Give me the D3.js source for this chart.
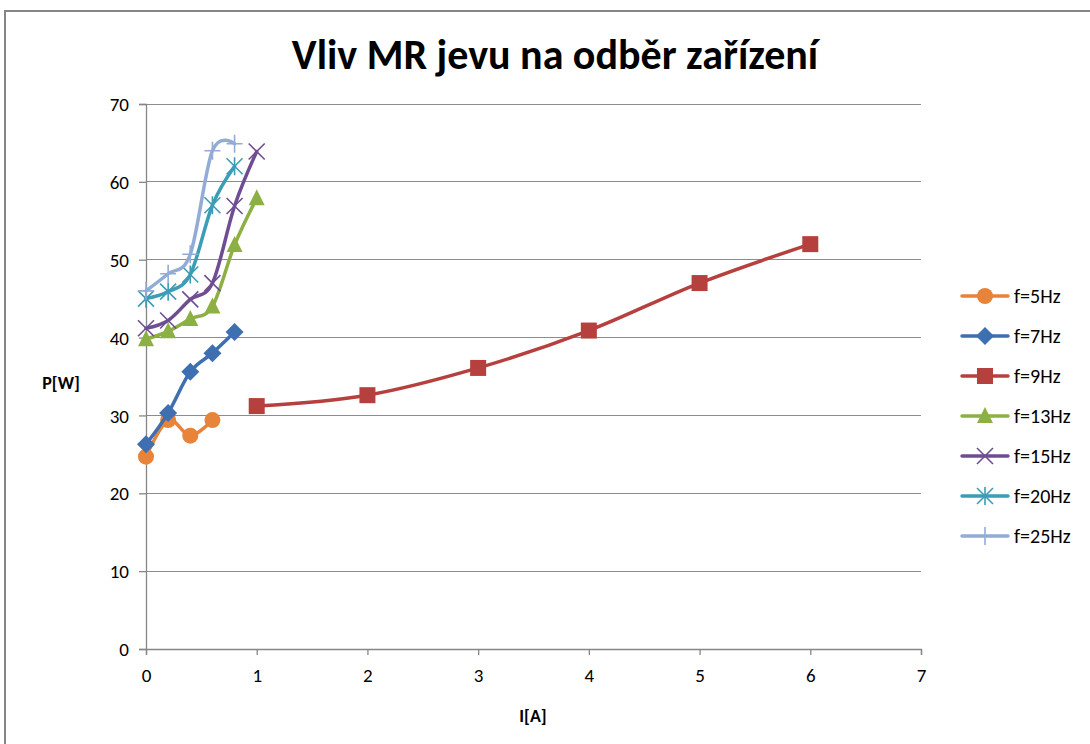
<!DOCTYPE html>
<html><head><meta charset="utf-8">
<script src="https://cdn.jsdelivr.net/npm/d3@7"></script>
<style>html,body{margin:0;padding:0;background:#fff;overflow:hidden}</style>
</head><body>
<svg id="c" width="1090" height="744"></svg>
<script>
const title = "Vliv MR jevu na odběr zařízení";
const xLabel = "I[A]";
const yLabel = "P[W]";
const xTicks = [0,1,2,3,4,5,6,7];
const yTicks = [0,10,20,30,40,50,60,70];
const seriesNames = ["f=5Hz","f=7Hz","f=9Hz","f=13Hz","f=15Hz","f=20Hz","f=25Hz"];
const seriesColors = ["#E8833A","#3E6FB0","#B5403D","#8CB043","#6F4D92","#3B9DB6","#93ACD6"];
const seriesMarkers = ["circle","diamond","square","triangle","x","star","plus"];
const x5 = [0,0.2,0.4,0.6];           const p5 = [24.7,29.4,27.4,29.4];
const x7 = [0,0.2,0.4,0.6,0.8];       const p7 = [26.3,30.3,35.6,38.0,40.7];
const x9 = [1,2,3,4,5,6];             const p9 = [31.2,32.6,36.1,40.9,47.0,52.0];
const x13 = [0,0.2,0.4,0.6,0.8,1.0];  const p13 = [39.8,40.8,42.4,44.0,51.9,57.9];
const x15 = [0,0.2,0.4,0.6,0.8,1.0];  const p15 = [41.2,42.2,44.9,47.0,56.9,63.9];
const x20 = [0,0.2,0.4,0.6,0.8];      const p20 = [45.0,45.9,48.1,57.0,62.0];
const x25 = [0,0.2,0.4,0.6,0.8];      const p25 = [46.0,48.2,50.7,64.0,64.9];

const seriesX = [x5,x7,x9,x13,x15,x20,x25];
const seriesY = [p5,p7,p9,p13,p15,p20,p25];

const svg = d3.select("#c");
const font = "Carlito, Calibri, 'Open Sans', sans-serif";
// outer chart border
svg.append("rect").attr("x",5).attr("y",11).attr("width",1200).attr("height",800)
  .attr("fill","#fff").attr("stroke","#868686").attr("stroke-width",2);

const x = d3.scaleLinear().domain([0,7]).range([146,921]);
const y = d3.scaleLinear().domain([0,70]).range([649,104]);

// gridlines
svg.append("g").selectAll("line").data(yTicks.filter(d=>d>0)).join("line")
  .attr("x1",x(0)).attr("x2",x(7)).attr("y1",d=>y(d)).attr("y2",d=>y(d))
  .attr("stroke","#8c8c8c").attr("stroke-width",1).attr("shape-rendering","crispEdges");

// axes
const gx = svg.append("g").attr("transform",`translate(0,${y(0)})`)
  .call(d3.axisBottom(x).tickValues(xTicks).tickSize(6).tickPadding(10).tickFormat(d3.format("d")));
const gy = svg.append("g").attr("transform",`translate(${x(0)},0)`)
  .call(d3.axisLeft(y).tickValues(yTicks).tickSize(7).tickPadding(10).tickFormat(d3.format("d")));
[gx,gy].forEach(g=>{
  g.select(".domain").attr("stroke","#868686").attr("stroke-width",1.3);
  g.selectAll(".tick line").attr("stroke","#868686").attr("stroke-width",1.3);
  g.selectAll(".tick text").attr("fill","#000").style("font-family",font).style("font-size","19px");
});
gy.selectAll(".tick text").attr("dy","0.35em");
gx.selectAll(".tick text").attr("dy","0.9em");

// title and axis labels
svg.append("text").attr("x",555).attr("y",69).attr("text-anchor","middle")
  .style("font-family",font).style("font-weight","bold").style("font-size","42px").text(title);
svg.append("text").attr("x",533).attr("y",722).attr("text-anchor","middle")
  .style("font-family",font).style("font-weight","bold").style("font-size","18px").text(xLabel);
svg.append("text").attr("x",61).attr("y",389).attr("text-anchor","middle")
  .style("font-family",font).style("font-weight","bold").style("font-size","18px").text(yLabel);

function drawMarker(g, type, color, cx, cy, s) {
  if (type==="circle") g.append("circle").attr("cx",cx).attr("cy",cy).attr("r",8*s).attr("fill",color);
  else if (type==="diamond") g.append("path").attr("d",`M${cx},${cy-9*s}L${cx+9*s},${cy}L${cx},${cy+9*s}L${cx-9*s},${cy}Z`).attr("fill",color);
  else if (type==="square") g.append("rect").attr("x",cx-8*s).attr("y",cy-8*s).attr("width",16*s).attr("height",16*s).attr("fill",color);
  else if (type==="triangle") g.append("path").attr("d",`M${cx},${cy-9*s}L${cx+8*s},${cy+7*s}L${cx-8*s},${cy+7*s}Z`).attr("fill",color);
  else if (type==="x") g.append("path").attr("d",`M${cx-8*s},${cy-8*s}L${cx+8*s},${cy+8*s}M${cx-8*s},${cy+8*s}L${cx+8*s},${cy-8*s}`).attr("stroke",color).attr("stroke-width",1.6).attr("fill","none");
  else if (type==="star") g.append("path").attr("d",`M${cx-8*s},${cy-8*s}L${cx+8*s},${cy+8*s}M${cx-8*s},${cy+8*s}L${cx+8*s},${cy-8*s}M${cx},${cy-9*s}L${cx},${cy+9*s}`).attr("stroke",color).attr("stroke-width",1.6).attr("fill","none");
  else if (type==="plus") g.append("path").attr("d",`M${cx-8*s},${cy}L${cx+8*s},${cy}M${cx},${cy-9*s}L${cx},${cy+9*s}`).attr("stroke",color).attr("stroke-width",1.6).attr("fill","none");
}

const line = d3.line().x(d=>x(d[0])).y(d=>y(d[1])).curve(d3.curveCardinal.tension(0));
seriesNames.forEach((name,i)=>{
  const pts = seriesX[i].map((v,j)=>[v,seriesY[i][j]]);
  const g = svg.append("g");
  g.append("path").datum(pts).attr("d",line).attr("fill","none")
    .attr("stroke",seriesColors[i]).attr("stroke-width",3.5).attr("stroke-linejoin","round").attr("stroke-linecap","round");
  pts.forEach(p=>drawMarker(g, seriesMarkers[i], seriesColors[i], x(p[0]), y(p[1]), 1));
});

// legend
seriesNames.forEach((name,i)=>{
  const ly = 296 + i*40;
  const g = svg.append("g");
  g.append("line").attr("x1",962).attr("x2",1008).attr("y1",ly).attr("y2",ly)
    .attr("stroke",seriesColors[i]).attr("stroke-width",3.5).attr("stroke-linecap","round");
  drawMarker(g, seriesMarkers[i], seriesColors[i], 985, ly, 1);
  g.append("text").attr("x",1014).attr("y",ly).attr("dy","0.35em")
    .style("font-family",font).style("font-size","20px").text(name);
});
</script>
</body></html>
